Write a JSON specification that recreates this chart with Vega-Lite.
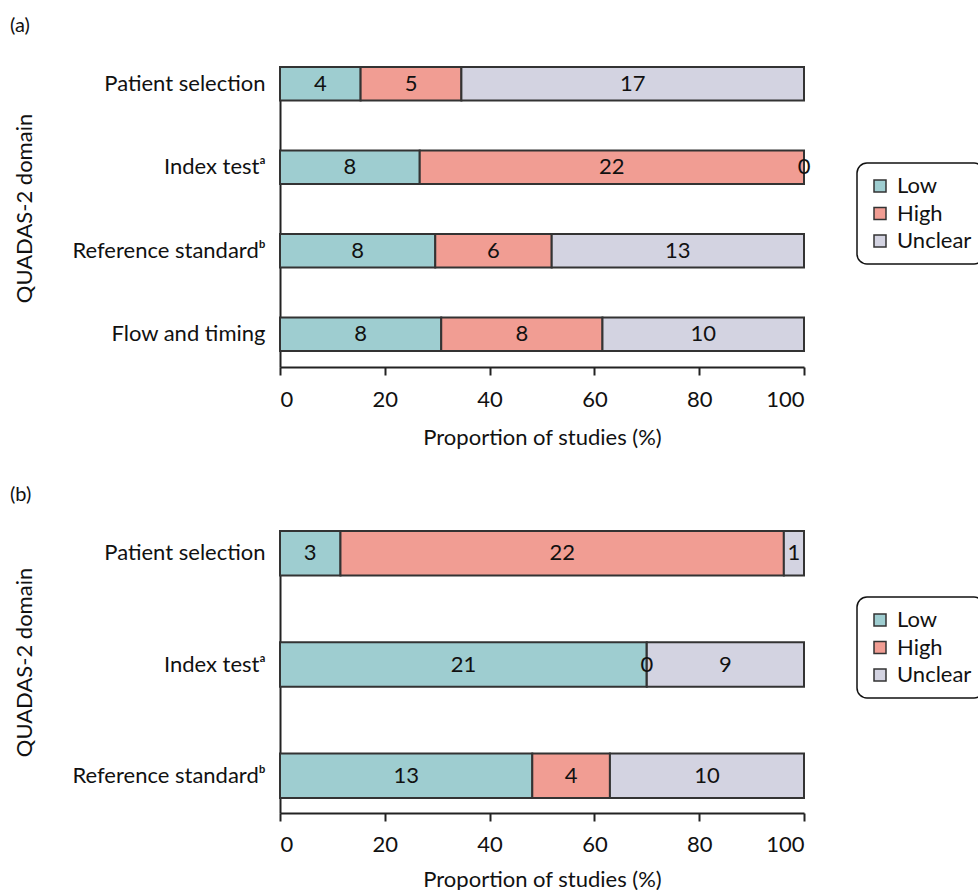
{
  "$schema": "https://vega.github.io/schema/vega-lite/v6.json",
  "padding": {"left": 10, "top": 16, "right": 0, "bottom": 0},
  "autosize": {"type": "pad"},
  "background": "white",
  "config": {
    "font": "Lato",
    "view": {"stroke": null},
    "axis": {
      "domainColor": "#222", "domainWidth": 2, "tickColor": "#222", "tickWidth": 2,
      "labelFontSize": 22, "titleFontSize": 22, "labelColor": "#111", "titleColor": "#111",
      "titleFontWeight": "normal", "grid": false, "labelFont": "Lato", "titleFont": "Lato", "labelLimit": 400
    },
    "legend": {
      "orient": "none", "labelFontSize": 22, "labelFont": "Lato", "labelColor": "#111",
      "symbolType": "square", "symbolSize": 144, "symbolStrokeColor": "#333", "symbolStrokeWidth": 1.5,
      "padding": 12, "strokeColor": "#111", "strokeWidth": 1.5, "cornerRadius": 10, "fillColor": "white",
      "rowPadding": 5.5, "labelOffset": 6, "symbolOffset": 0
    },
    "title": {"font": "Lato", "fontSize": 20, "fontWeight": "normal", "color": "#111", "anchor": "start", "frame": "group", "dx": -270},
    "concat": {"spacing": 37}
  },
  "datasets": {
    "a": [
      {"domain": "Patient selection", "risk": "Low", "order": 1, "n": 4},
      {"domain": "Patient selection", "risk": "High", "order": 2, "n": 5},
      {"domain": "Patient selection", "risk": "Unclear", "order": 3, "n": 17},
      {"domain": "Index testᵃ", "risk": "Low", "order": 1, "n": 8},
      {"domain": "Index testᵃ", "risk": "High", "order": 2, "n": 22},
      {"domain": "Index testᵃ", "risk": "Unclear", "order": 3, "n": 0},
      {"domain": "Reference standardᵇ", "risk": "Low", "order": 1, "n": 8},
      {"domain": "Reference standardᵇ", "risk": "High", "order": 2, "n": 6},
      {"domain": "Reference standardᵇ", "risk": "Unclear", "order": 3, "n": 13},
      {"domain": "Flow and timing", "risk": "Low", "order": 1, "n": 8},
      {"domain": "Flow and timing", "risk": "High", "order": 2, "n": 8},
      {"domain": "Flow and timing", "risk": "Unclear", "order": 3, "n": 10}
    ],
    "b": [
      {"domain": "Patient selection", "risk": "Low", "order": 1, "n": 3},
      {"domain": "Patient selection", "risk": "High", "order": 2, "n": 22},
      {"domain": "Patient selection", "risk": "Unclear", "order": 3, "n": 1},
      {"domain": "Index testᵃ", "risk": "Low", "order": 1, "n": 21},
      {"domain": "Index testᵃ", "risk": "High", "order": 2, "n": 0},
      {"domain": "Index testᵃ", "risk": "Unclear", "order": 3, "n": 9},
      {"domain": "Reference standardᵇ", "risk": "Low", "order": 1, "n": 13},
      {"domain": "Reference standardᵇ", "risk": "High", "order": 2, "n": 4},
      {"domain": "Reference standardᵇ", "risk": "Unclear", "order": 3, "n": 10}
    ]
  },
  "resolve": {"scale": {"color": "independent"}, "legend": {"color": "independent"}},
  "vconcat": [
    {
      "title": {"text": "(a)", "offset": 30},
      "data": {"name": "a"},
      "width": 524,
      "height": 300,
      "transform": [
        {"stack": "n", "groupby": ["domain"], "offset": "normalize", "sort": [{"field": "order", "order": "ascending"}], "as": ["x0", "x1"]},
        {"calculate": "(datum.x0 + datum.x1) / 2", "as": "xm"}
      ],
      "encoding": {
        "y": {
          "field": "domain", "type": "nominal",
          "sort": ["Patient selection", "Index testᵃ", "Reference standardᵇ", "Flow and timing"],
          "scale": {"paddingInner": 0.6, "paddingOuter": 0.096, "align": 0},
          "axis": {"title": "QUADAS-2 domain", "ticks": false, "labelPadding": 15, "titleX": -249, "titleY": 141, "titleAngle": -90, "titleBaseline": "alphabetic", "titleAlign": "center"}
        }
      },
      "layer": [
        {
          "mark": {"type": "bar", "stroke": "#333", "strokeWidth": 2},
          "encoding": {
            "x": {"field": "x0", "type": "quantitative", "title": "Proportion of studies (%)",
              "scale": {"domain": [0, 1], "nice": false, "zero": true},
              "axis": {"values": [0, 0.2, 0.4, 0.6, 0.8, 1], "labelExpr": "round(datum.value * 100)", "tickSize": 8, "labelPadding": 14, "titlePadding": 17}},
            "x2": {"field": "x1"},
            "color": {"field": "risk", "type": "nominal",
              "scale": {"domain": ["Low", "High", "Unclear"], "range": ["#9ecdd0", "#f19d93", "#d3d3e1"]},
              "legend": {"title": null, "legendX": 577, "legendY": 96}}
          }
        },
        {
          "mark": {"type": "text", "fontSize": 22, "color": "#111", "font": "Lato"},
          "encoding": {
            "x": {"field": "xm", "type": "quantitative", "title": "Proportion of studies (%)"},
            "text": {"field": "n", "type": "quantitative"}
          }
        }
      ]
    },
    {
      "title": {"text": "(b)", "offset": 25},
      "data": {"name": "b"},
      "width": 524,
      "height": 282,
      "transform": [
        {"stack": "n", "groupby": ["domain"], "offset": "normalize", "sort": [{"field": "order", "order": "ascending"}], "as": ["x0", "x1"]},
        {"calculate": "(datum.x0 + datum.x1) / 2", "as": "xm"}
      ],
      "encoding": {
        "y": {
          "field": "domain", "type": "nominal",
          "sort": ["Patient selection", "Index testᵃ", "Reference standardᵇ"],
          "scale": {"paddingInner": 0.6, "paddingOuter": 0.067, "align": 0},
          "axis": {"title": "QUADAS-2 domain", "ticks": false, "labelPadding": 15, "titleX": -249, "titleY": 131, "titleAngle": -90, "titleBaseline": "alphabetic", "titleAlign": "center"}
        }
      },
      "layer": [
        {
          "mark": {"type": "bar", "stroke": "#333", "strokeWidth": 2},
          "encoding": {
            "x": {"field": "x0", "type": "quantitative", "title": "Proportion of studies (%)",
              "scale": {"domain": [0, 1], "nice": false, "zero": true},
              "axis": {"values": [0, 0.2, 0.4, 0.6, 0.8, 1], "labelExpr": "round(datum.value * 100)", "tickSize": 8, "labelPadding": 13, "titlePadding": 14}},
            "x2": {"field": "x1"},
            "color": {"field": "risk", "type": "nominal",
              "scale": {"domain": ["Low", "High", "Unclear"], "range": ["#9ecdd0", "#f19d93", "#d3d3e1"]},
              "legend": {"title": null, "legendX": 577, "legendY": 66}}
          }
        },
        {
          "mark": {"type": "text", "fontSize": 22, "color": "#111", "font": "Lato"},
          "encoding": {
            "x": {"field": "xm", "type": "quantitative", "title": "Proportion of studies (%)"},
            "text": {"field": "n", "type": "quantitative"}
          }
        }
      ]
    }
  ]
}
